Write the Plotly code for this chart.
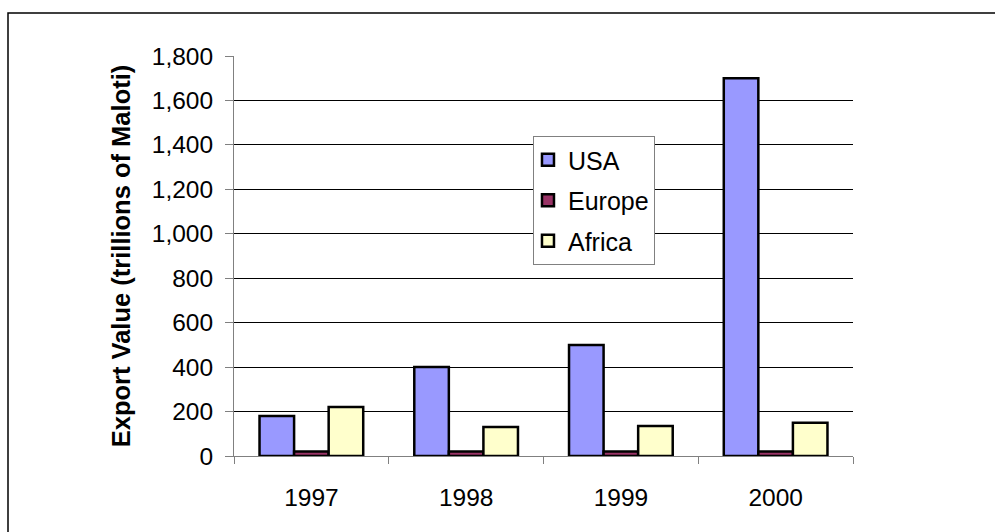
import plotly.graph_objects as go

# Export values by destination, trillions of Maloti
years = ["1997", "1998", "1999", "2000"]
usa = [180, 400, 500, 1700]
europe = [20, 20, 20, 20]
africa = [220, 130, 135, 150]

series_names = ["USA", "Europe", "Africa"]
series_colors = ["#9999FF", "#993366", "#FFFFCC"]
y_ticks = [0, 200, 400, 600, 800, 1000, 1200, 1400, 1600, 1800]

FONT = "Liberation Sans, Arial, sans-serif"

fig = go.Figure()
for name, vals, color in zip(series_names, [usa, europe, africa], series_colors):
    fig.add_trace(go.Bar(
        x=years, y=vals, name=name, legendgroup=name,
        marker=dict(color=color, line=dict(color="#000000", width=2.5)),
    ))

fig.update_layout(
    width=995, height=532,
    margin=dict(l=234, r=142, t=56, b=76),
    paper_bgcolor="white", plot_bgcolor="white",
    barmode="group", bargap=0.33, bargroupgap=0,
    font=dict(family=FONT, size=24.5, color="#000000"),
    showlegend=True,
    legend=dict(
        x=0.483, y=0.80, xanchor="left", yanchor="top",
        bgcolor="white", bordercolor="#808080", borderwidth=1,
        font=dict(family=FONT, size=25, color="#000000"),
        tracegroupgap=5, indentation=-6,
    ),
    xaxis=dict(
        type="category", showgrid=False, zeroline=False,
        showline=True, linecolor="#808080", linewidth=1,
        ticks="outside", tickson="boundaries", ticklen=7,
        tickcolor="#808080", tickwidth=1,
        tickfont=dict(family=FONT, size=24.5),
        ticklabelstandoff=20,
    ),
    yaxis=dict(
        range=[0, 1800], tickvals=y_ticks, tickformat=",d",
        showgrid=True, gridcolor="#000000", gridwidth=1,
        zeroline=False, showline=True, linecolor="#808080", linewidth=1,
        ticks="outside", ticklen=8, tickcolor="#808080", tickwidth=1,
        tickfont=dict(family=FONT, size=24.5),
        ticklabelstandoff=7,
        title=dict(text="<b>Export Value (trillions of Maloti)</b>",
                   font=dict(family=FONT, size=25.5), standoff=13),
    ),
    shapes=[dict(
        type="rect", xref="paper", yref="paper",
        x0=-0.3651, x1=1.26, y0=-0.22, y1=1.1075,
        line=dict(color="#000000", width=1.5), fillcolor="rgba(0,0,0,0)",
        layer="below",
    )],
)

fig.write_html("out.html")
